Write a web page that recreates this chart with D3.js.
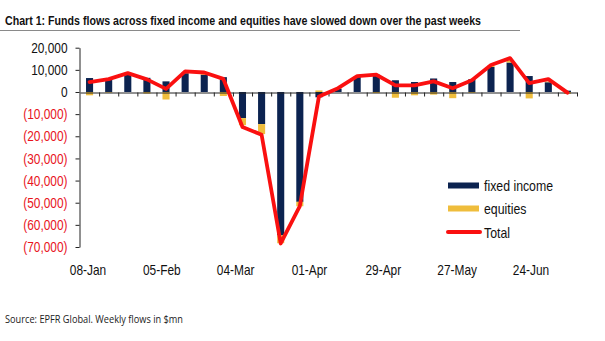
<!DOCTYPE html>
<html>
<head>
<meta charset="utf-8">
<script src="https://cdn.jsdelivr.net/npm/d3@7"></script>
<style>
  body { margin: 0; background: #fff; }
  svg { display: block; }
</style>
</head>
<body>
<div id="chart"></div>
<script>
// weekly flows, $mn
const weeks = ["08-Jan","15-Jan","22-Jan","29-Jan","05-Feb","12-Feb","19-Feb","26-Feb",
  "04-Mar","11-Mar","18-Mar","25-Mar","01-Apr","08-Apr","15-Apr","22-Apr","29-Apr",
  "06-May","13-May","20-May","27-May","03-Jun","10-Jun","17-Jun","24-Jun","01-Jul"];
const fixedIncome = [6300,5800,7800,6400,4800,8500,7800,6700,-11800,-14500,-64700,-49600,
  -2400,1500,6800,7800,5300,4500,6100,4500,5800,11300,13300,7200,4400,600];
const equities = [-1500,-300,300,-700,-3400,500,600,-1800,-3200,-4500,-3600,-2000,
  700,200,300,-500,-2600,-1500,-1200,-2800,-400,600,1000,-2900,300,-800];
const total = [4500,5800,8500,5700,1400,9300,8800,5900,-15800,-19300,-68400,-51500,
  -2000,1700,7200,7800,3000,3000,4800,1700,5300,12200,15300,4000,5800,-300];
const xLabels = ["08-Jan","05-Feb","04-Mar","01-Apr","29-Apr","27-May","24-Jun"];
const yTicks = [20000,10000,0,-10000,-20000,-30000,-40000,-50000,-60000,-70000];

const W = 605, H = 341;
const svg = d3.select("#chart").append("svg").attr("width", W).attr("height", H);
const font = "'Liberation Sans', Arial, sans-serif";

// squeeze text horizontally so it reads like a narrow face
function narrow(sel, k) {
  sel.each(function () {
    const len = this.getComputedTextLength();
    d3.select(this).attr("textLength", len * (k || 0.82)).attr("lengthAdjust", "spacingAndGlyphs");
  });
}

// title
svg.append("text")
  .attr("x", 5).attr("y", 25)
  .attr("font-family", font).attr("font-weight", "bold").attr("font-size", 13)
  .attr("fill", "#111")
  .text("Chart 1: Funds flows across fixed income and equities have slowed down over the past weeks")
  .each(function () {
    const k = 476 / this.getComputedTextLength();
    d3.select(this).call(narrow, k);
  });
svg.append("line").attr("x1", 0).attr("x2", 520).attr("y1", 30.5).attr("y2", 30.5)
  .attr("stroke", "#8a8a8a").attr("stroke-width", 1);

const x = d3.scaleBand().domain(weeks).range([80, 577]).paddingInner(0.63).paddingOuter(0.315);
const y = d3.scaleLinear().domain([-70000, 20000]).range([247, 47.7]);

// stacked bars (diverging)
const rows = weeks.map((w, i) => ({ week: w, fi: fixedIncome[i], eq: equities[i] }));
const stack = d3.stack().keys(["fi", "eq"]).offset(d3.stackOffsetDiverging)(rows);
const colors = { fi: "#0c2350", eq: "#efbd3c" };

svg.selectAll("g.series").data(stack).enter().append("g")
  .attr("fill", d => colors[d.key])
  .selectAll("rect").data(d => d).enter().append("rect")
  .attr("x", d => x(d.data.week))
  .attr("width", x.bandwidth())
  .attr("y", d => y(Math.max(d[0], d[1])))
  .attr("height", d => Math.abs(y(d[0]) - y(d[1])));

// y axis
const yAxis = svg.append("g").attr("transform", "translate(79.5,0)")
  .call(d3.axisLeft(y).tickValues(yTicks).tickSize(4).tickSizeOuter(0)
    .tickFormat(d => d < 0 ? "(" + d3.format(",")(-d) + ")" : d3.format(",")(d)));
yAxis.select(".domain").attr("stroke", "#222");
yAxis.selectAll(".tick line").attr("stroke", "#222");
yAxis.selectAll("text")
  .attr("font-family", font).attr("font-size", 14.5)
  .attr("x", -12)
  .attr("fill", d => d < 0 ? "#e8141c" : "#111")
  .call(narrow);

// x axis at zero, ticks between categories
const xb = d3.scaleLinear().domain([0, weeks.length]).range(x.range());
const xAxis = svg.append("g").attr("transform", `translate(0,${Math.round(y(0)) + 0.5})`)
  .call(d3.axisBottom(xb).tickValues(d3.range(1, weeks.length + 1)).tickSize(4)
    .tickSizeOuter(0).tickFormat(""));
xAxis.select(".domain").attr("stroke", "#222");
xAxis.selectAll(".tick line").attr("stroke", "#222");

// category labels every four weeks
const xl = d3.scalePoint().domain(xLabels).range([88, 531]);
svg.append("g").selectAll("text").data(xLabels).enter().append("text")
  .attr("x", d => xl(d)).attr("y", 275)
  .attr("text-anchor", "middle")
  .attr("font-family", font).attr("font-size", 14.5).attr("fill", "#111")
  .text(d => d)
  .call(narrow);

// total line
const line = d3.line()
  .x((d, i) => x(weeks[i]) + x.bandwidth() / 2)
  .y(d => y(d));
svg.append("path").datum(total)
  .attr("d", line)
  .attr("fill", "none").attr("stroke", "#fa1010").attr("stroke-width", 3.8)
  .attr("stroke-linejoin", "round").attr("stroke-linecap", "round");

// legend
const legend = svg.append("g").attr("font-family", font).attr("font-size", 15).attr("fill", "#111");
const items = [
  { label: "fixed income", type: "rect", color: colors.fi, cy: 185.5 },
  { label: "equities", type: "rect", color: colors.eq, cy: 208.5 },
  { label: "Total", type: "line", color: "#fa1010", cy: 232 }
];
items.forEach(it => {
  if (it.type === "rect") {
    legend.append("rect").attr("x", 448).attr("y", it.cy - 3).attr("width", 31).attr("height", 6)
      .attr("fill", it.color);
  } else {
    legend.append("line").attr("x1", 448).attr("x2", 480).attr("y1", it.cy).attr("y2", it.cy)
      .attr("stroke", it.color).attr("stroke-width", 4).attr("stroke-linecap", "round");
  }
  legend.append("text").attr("x", 484).attr("y", it.cy + 5.5).text(it.label).call(narrow);
});

// source
svg.append("text").attr("x", 5).attr("y", 323)
  .attr("font-family", "'Open Sans', 'Noto Sans', sans-serif").attr("font-size", 10.5)
  .attr("fill", "#222")
  .text("Source: EPFR Global. Weekly flows in $mn")
  .each(function () {
    d3.select(this).call(narrow, 178 / this.getComputedTextLength());
  });
</script>
</body>
</html>
